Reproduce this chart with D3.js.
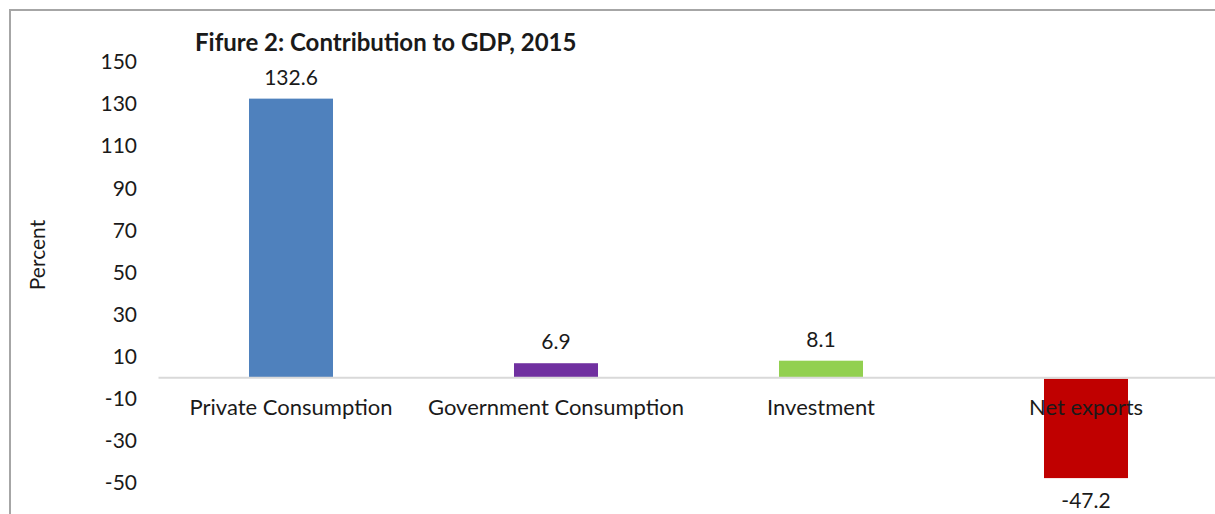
<!DOCTYPE html>
<html><head><meta charset="utf-8">
<script src="https://cdn.jsdelivr.net/npm/d3@7"></script>
<style>body{margin:0;background:#fff}svg{display:block}text{font-family:Lato,"Liberation Sans",sans-serif;fill:#1a1a1a}</style>
</head><body>
<svg id="c" width="1215" height="514"></svg>
<script>
const categories = ["Private Consumption","Government Consumption","Investment","Net exports"];
const values = [132.6, 6.9, 8.1, -47.2];
const colors = ["#4f81bd","#7030a0","#92d050","#c00000"];
const yTicks = [150,130,110,90,70,50,30,10,-10,-30,-50];
const title = "Fifure 2: Contribution to GDP, 2015";
const yTitle = "Percent";

const svg = d3.select("#c");
svg.append("rect").attr("x",10).attr("y",10).attr("width",1230).attr("height",540)
  .attr("fill","none").attr("stroke","#a6a6a6").attr("stroke-width",2);

const x = d3.scaleBand().domain(categories).range([158.5,1218.5]).paddingInner(0.683).paddingOuter(0.3415);
const y = d3.scaleLinear().domain([-50,150]).range([483,62]);

// y tick labels
const ya = svg.append("g").attr("transform","translate(141,0)")
  .call(d3.axisLeft(y).tickValues(yTicks).tickFormat(d=>String(d)).tickSize(0).tickPadding(4));
ya.select(".domain").remove();
ya.selectAll("text").style("font-family","Lato").style("font-size","21px").attr("fill","#1a1a1a");

// bars
svg.append("g").selectAll("rect").data(values).join("rect")
  .attr("x",(d,i)=>x(categories[i]))
  .attr("width",x.bandwidth())
  .attr("y",d=>d>=0?y(d):y(0)+1)
  .attr("height",d=>Math.abs(y(d)-y(0)))
  .attr("fill",(d,i)=>colors[i]);

// zero axis
const xa = svg.append("g").attr("transform",`translate(0,${y(0)})`)
  .call(d3.axisBottom(x).tickSize(0).tickPadding(0));
xa.select(".domain").attr("stroke","#d9d9d9").attr("stroke-width",2).attr("d","M158.5,0H1218.5");
xa.selectAll("text").attr("dy",null).attr("y",37).style("font-family","Lato").style("font-size","22px").attr("fill","#1a1a1a");

// data labels
svg.append("g").selectAll("text").data(values).join("text")
  .attr("x",(d,i)=>x(categories[i])+x.bandwidth()/2)
  .attr("y",d=>d>=0?y(d)-14:y(d)+31)
  .attr("text-anchor","middle").style("font-size","21px")
  .text(d=>d.toFixed(1));

svg.append("text").attr("x",195).attr("y",51).style("font-size","24px").style("font-weight","bold").text(title);
svg.append("text").attr("transform","translate(45,255) rotate(-90)").attr("text-anchor","middle").style("font-size","21px").text(yTitle);
</script>
</body></html>
